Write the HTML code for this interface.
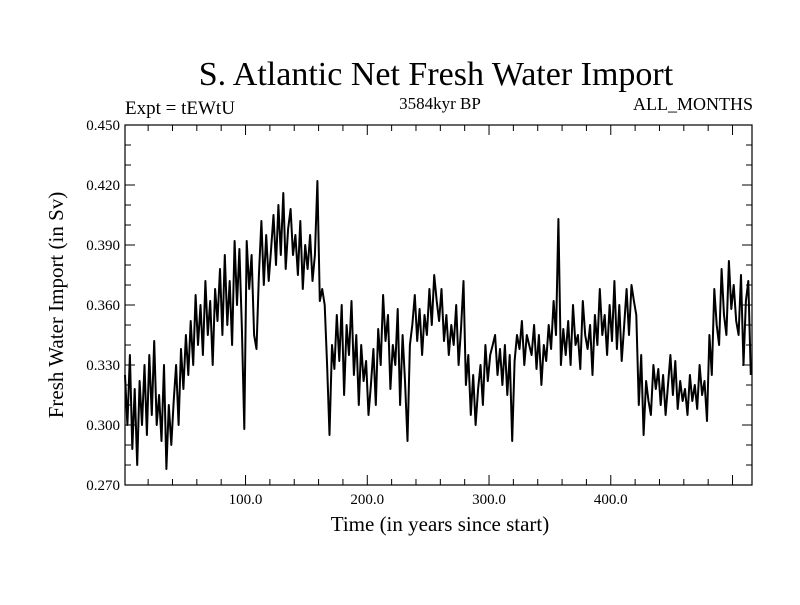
<!DOCTYPE html>
<html><head><meta charset="utf-8"><style>
body{margin:0;background:#fff}
svg text{font-family:"Liberation Serif",serif;fill:#000}
</style></head><body>
<svg id="chart" width="800" height="600">
<text x="436" y="85" font-size="34" text-anchor="middle">S. Atlantic Net Fresh Water Import</text>
<text x="125" y="114" font-size="19">Expt = tEWtU</text>
<text x="440" y="109" font-size="17" text-anchor="middle">3584kyr BP</text>
<text x="753" y="110" font-size="18" text-anchor="end">ALL_MONTHS</text>
<text x="440" y="531" font-size="21" text-anchor="middle">Time (in years since start)</text>
<text transform="translate(63,305) rotate(-90)" font-size="21" text-anchor="middle">Fresh Water Import (in Sv)</text>
<g id="axes"></g>
<path id="series" fill="none" stroke="#000" stroke-width="2" stroke-linejoin="round"></path>
<rect x="125" y="125" width="627" height="360" fill="none" stroke="#000" stroke-width="1.2"></rect>
</svg>
<script>
const yearStart = 1;
const yearStep = 2;
const values = [
0.325,0.300,0.335,0.288,0.318,0.280,0.322,0.300,0.330,0.295,
0.335,0.305,0.342,0.300,0.315,0.292,0.330,0.278,0.310,0.290,
0.312,0.330,0.300,0.338,0.318,0.345,0.325,0.352,0.330,0.365,
0.340,0.360,0.335,0.372,0.345,0.362,0.330,0.368,0.352,0.378,
0.345,0.385,0.350,0.372,0.340,0.392,0.360,0.388,0.348,0.298,
0.392,0.368,0.385,0.345,0.338,0.375,0.402,0.370,0.395,0.372,
0.388,0.405,0.380,0.410,0.385,0.416,0.378,0.398,0.408,0.385,
0.395,0.375,0.402,0.368,0.390,0.378,0.395,0.372,0.385,0.422,
0.362,0.368,0.360,0.330,0.295,0.340,0.328,0.355,0.332,0.360,
0.315,0.350,0.335,0.362,0.325,0.345,0.310,0.340,0.322,0.332,
0.305,0.320,0.338,0.310,0.348,0.330,0.365,0.342,0.355,0.318,
0.340,0.330,0.358,0.310,0.345,0.322,0.292,0.340,0.350,0.365,
0.342,0.358,0.335,0.355,0.345,0.368,0.350,0.375,0.362,0.352,
0.368,0.342,0.355,0.335,0.350,0.340,0.360,0.330,0.348,0.372,
0.320,0.335,0.305,0.325,0.300,0.318,0.330,0.310,0.340,0.322,
0.335,0.340,0.345,0.325,0.338,0.320,0.340,0.315,0.335,0.292,
0.332,0.345,0.338,0.352,0.330,0.345,0.340,0.335,0.350,0.328,
0.345,0.320,0.340,0.332,0.350,0.338,0.362,0.345,0.403,0.330,
0.348,0.335,0.352,0.330,0.360,0.340,0.345,0.328,0.362,0.345,
0.338,0.350,0.325,0.355,0.340,0.368,0.345,0.355,0.335,0.360,
0.342,0.372,0.338,0.360,0.332,0.350,0.368,0.345,0.370,0.362,
0.355,0.310,0.335,0.295,0.322,0.312,0.305,0.330,0.318,0.328,
0.310,0.325,0.305,0.320,0.335,0.315,0.332,0.308,0.322,0.312,
0.318,0.305,0.325,0.312,0.320,0.308,0.330,0.315,0.322,0.302,
0.345,0.325,0.368,0.350,0.340,0.378,0.355,0.345,0.382,0.358,
0.370,0.352,0.345,0.375,0.330,0.362,0.372,0.325];
const xTicks = [100,200,300,400];
const xTickLabels = ["100.0","200.0","300.0","400.0"];
const yTicks = [0.27,0.30,0.33,0.36,0.39,0.42,0.45];
const yTickLabels = ["0.270","0.300","0.330","0.360","0.390","0.420","0.450"];

const X0=125,X1=752,Y0=485,Y1=125,XMIN=1,XMAX=516,YMIN=0.27,YMAX=0.45;
const xs=v=>X0+(v-XMIN)/(XMAX-XMIN)*(X1-X0);
const ys=v=>Y0-(v-YMIN)/(YMAX-YMIN)*(Y0-Y1);
const NS='http://www.w3.org/2000/svg';
const axes=document.getElementById('axes');
function line(x1,y1,x2,y2,name){const l=document.createElementNS(NS,'line');
l.setAttribute('x1',x1);l.setAttribute('y1',y1);l.setAttribute('x2',x2);l.setAttribute('y2',y2);
l.setAttribute('stroke','#000');l.setAttribute('stroke-width','1');


axes.appendChild(l);}
function text(x,y,s,anchor,name){const t=document.createElementNS(NS,'text');
t.setAttribute('x',x);t.setAttribute('y',y);t.setAttribute('font-size','15');t.setAttribute('text-anchor',anchor);t.textContent=s;


axes.appendChild(t);}
for(let v=20;v<XMAX;v+=20){const x=xs(v);const major=v%100===0;const L=major?10:6;
line(x,Y0,x,Y0-L,'x-tick');line(x,Y1,x,Y1+L,'x-tick-top');}
xTicks.forEach((v,i)=>text(xs(v),Y0+19,xTickLabels[i],'middle','x-tick-label'));
for(let k=0;k<=18;k++){const v=YMIN+k*0.01;const y=ys(v);const L=k%3===0?10:6;
line(X0,y,X0+L,y,'y-tick');line(X1,y,X1-L,y,'y-tick-right');}
yTicks.forEach((v,i)=>text(X0-5,ys(v)+5,yTickLabels[i],'end','y-tick-label'));
let d='';values.forEach((v,i)=>{const x=xs(yearStart+i*yearStep);d+=(i?'L':'M')+x.toFixed(1)+','+ys(v).toFixed(1);});
document.getElementById('series').setAttribute('d',d);
</script>
</body></html>
